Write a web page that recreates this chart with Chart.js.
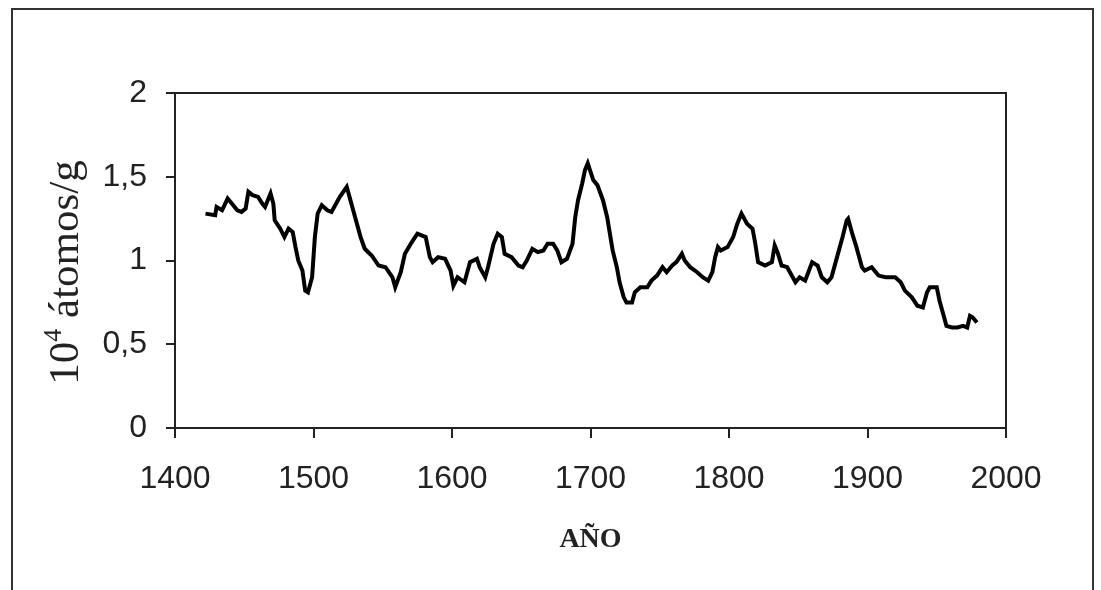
<!DOCTYPE html>
<html>
<head>
<meta charset="utf-8">
<script src="https://cdn.jsdelivr.net/npm/chart.js@4/dist/chart.umd.min.js"></script>
<style>
  html, body { margin: 0; padding: 0; background: #fff; }
  canvas { display: block; }
</style>
</head>
<body>
<canvas id="c" width="1101" height="590"></canvas>
<script>
// Años de la serie
const years = [
  1422, 1429, 1430, 1434, 1438, 1441, 1445, 1448, 1451, 1453, 1456, 1460, 1463, 1465, 1469, 1471,
  1472, 1476, 1479, 1482, 1485, 1487, 1489, 1492, 1494, 1496, 1499, 1501, 1503, 1506, 1510, 1513,
  1519, 1524, 1526, 1530, 1534, 1537, 1542, 1547, 1552, 1557, 1559, 1563, 1566, 1571, 1575, 1581,
  1584, 1586, 1590, 1595, 1599, 1601, 1604, 1609, 1613, 1618, 1620, 1624, 1626, 1630, 1633, 1636,
  1638, 1643, 1648, 1651, 1654, 1658, 1662, 1666, 1669, 1673, 1676, 1679, 1683, 1687, 1689, 1691,
  1694, 1696, 1698, 1702, 1705, 1709, 1712, 1714, 1716, 1719, 1721, 1724, 1726, 1730, 1732, 1736,
  1741, 1744, 1748, 1752, 1755, 1759, 1762, 1766, 1768, 1772, 1777, 1781, 1785, 1788, 1790, 1792,
  1794, 1799, 1803, 1806, 1809, 1813, 1817, 1819, 1821, 1826, 1831, 1833, 1835, 1838, 1842, 1846,
  1848, 1851, 1855, 1860, 1864, 1867, 1871, 1874, 1878, 1882, 1885, 1886, 1889, 1892, 1896, 1898,
  1903, 1908, 1913, 1920, 1924, 1927, 1932, 1936, 1940, 1943, 1945, 1950, 1952, 1955, 1957, 1961,
  1965, 1969, 1972, 1974, 1976, 1979
];

// Concentración (10^4 átomos/g)
const concentration = [
  1.28, 1.27, 1.32, 1.30, 1.37, 1.34, 1.30, 1.29, 1.31, 1.41, 1.39, 1.38, 1.34, 1.32, 1.40, 1.34,
  1.24, 1.19, 1.14, 1.19, 1.17, 1.08, 1.00, 0.94, 0.82, 0.81, 0.90, 1.14, 1.28, 1.33, 1.30, 1.29,
  1.38, 1.44, 1.38, 1.26, 1.14, 1.07, 1.03, 0.97, 0.96, 0.90, 0.84, 0.93, 1.04, 1.11, 1.16, 1.14,
  1.02, 0.99, 1.02, 1.01, 0.94, 0.85, 0.90, 0.87, 0.99, 1.01, 0.96, 0.90, 0.96, 1.10, 1.16, 1.14,
  1.04, 1.02, 0.97, 0.96, 1.00, 1.07, 1.05, 1.06, 1.10, 1.10, 1.06, 0.99, 1.01, 1.10, 1.26, 1.36,
  1.46, 1.54, 1.58, 1.48, 1.45, 1.36, 1.26, 1.16, 1.06, 0.96, 0.87, 0.78, 0.75, 0.75, 0.81, 0.84,
  0.84, 0.88, 0.91, 0.96, 0.93, 0.97, 0.99, 1.04, 1.00, 0.96, 0.93, 0.90, 0.88, 0.93, 1.02, 1.08,
  1.06, 1.08, 1.14, 1.22, 1.28, 1.22, 1.19, 1.10, 0.99, 0.97, 0.99, 1.09, 1.05, 0.97, 0.96, 0.90,
  0.87, 0.90, 0.88, 0.99, 0.97, 0.90, 0.87, 0.90, 1.02, 1.14, 1.24, 1.25, 1.16, 1.08, 0.96, 0.94,
  0.96, 0.91, 0.90, 0.90, 0.87, 0.82, 0.78, 0.73, 0.72, 0.81, 0.84, 0.84, 0.76, 0.67, 0.61, 0.60,
  0.60, 0.61, 0.60, 0.67, 0.66, 0.63
];

// Marcas de los ejes
const xTicks = [1400, 1500, 1600, 1700, 1800, 1900, 2000];
const yTicks = [0, 0.5, 1, 1.5, 2];
const yTickLabels = ['0', '0,5', '1', '1,5', '2'];
// Título vertical en tres partes: base, exponente y unidad
const yTitleParts = ['10', '4', ' átomos/g'];
const xTitle = 'AÑO';

const points = years.map((yr, i) => ({ x: yr, y: concentration[i] }));

// Marco exterior, recuadro del área de trazado y título vertical
const framePlugin = {
  id: 'frames',
  beforeDraw(chart) {
    const ctx = chart.ctx;
    ctx.save();
    ctx.strokeStyle = '#333';
    ctx.lineWidth = 2;
    ctx.beginPath();
    ctx.moveTo(12, 600);
    ctx.lineTo(12, 9);
    ctx.lineTo(1093, 9);
    ctx.lineTo(1093, 600);
    ctx.stroke();
    ctx.restore();
  },
  afterDatasetsDraw(chart) {
    const { ctx, chartArea: a } = chart;
    ctx.save();
    ctx.strokeStyle = '#222';
    ctx.lineWidth = 2;
    ctx.strokeRect(a.left, a.top, a.right - a.left, a.bottom - a.top);
    ctx.restore();
  },
  afterDraw(chart) {
    const ctx = chart.ctx;
    const a = chart.chartArea;
    const big = '43px "Liberation Serif", "Times New Roman", serif';
    const small = '26px "Liberation Serif", "Times New Roman", serif';
    ctx.save();
    ctx.font = big;
    const w0 = ctx.measureText(yTitleParts[0]).width;
    const w2 = ctx.measureText(yTitleParts[2]).width;
    ctx.font = small;
    const w1 = ctx.measureText(yTitleParts[1]).width;
    const total = w0 + w1 + w2;
    ctx.translate(78, (a.top + a.bottom) / 2 + 12);
    ctx.rotate(-Math.PI / 2);
    ctx.fillStyle = '#222';
    ctx.textAlign = 'left';
    ctx.textBaseline = 'alphabetic';
    let x = -total / 2;
    ctx.font = big;
    ctx.fillText(yTitleParts[0], x, 0);
    x += w0;
    ctx.font = small;
    ctx.fillText(yTitleParts[1], x, -17);
    x += w1;
    ctx.font = big;
    ctx.fillText(yTitleParts[2], x, 0);
    ctx.restore();
  }
};

new Chart(document.getElementById('c'), {
  type: 'line',
  data: {
    datasets: [{
      data: points,
      borderColor: '#000',
      borderWidth: 4,
      pointRadius: 0,
      tension: 0,
      fill: false
    }]
  },
  options: {
    responsive: false,
    animation: false,
    layout: { padding: { top: 93, right: 95, left: 0, bottom: 0 } },
    plugins: { legend: { display: false }, tooltip: { enabled: false } },
    scales: {
      x: {
        type: 'linear',
        min: 1400,
        max: 2000,
        afterBuildTicks(scale) { scale.ticks = xTicks.map(v => ({ value: v })); },
        afterFit(scale) { scale.height = 162; },
        grid: { display: true, drawOnChartArea: false, drawTicks: true, tickLength: 10, color: '#222', lineWidth: 2 },
        border: { display: true, color: '#222', width: 2 },
        ticks: {
          color: '#222',
          padding: 22,
          maxRotation: 0,
          font: { family: 'Liberation Sans, Arial, sans-serif', size: 32 },
          callback: v => String(v)
        },
        title: {
          display: true,
          text: xTitle,
          color: '#222',
          font: { family: 'Liberation Serif, Times New Roman, serif', size: 28, weight: 'bold' },
          padding: { top: 0, bottom: 33 }
        }
      },
      y: {
        min: 0,
        max: 2,
        afterBuildTicks(scale) { scale.ticks = yTicks.map(v => ({ value: v })); },
        afterFit(scale) { scale.width = 175; },
        grid: { display: true, drawOnChartArea: false, drawTicks: true, tickLength: 9, color: '#222', lineWidth: 2 },
        border: { display: true, color: '#222', width: 2 },
        ticks: {
          color: '#222',
          padding: 19,
          font: { family: 'Liberation Sans, Arial, sans-serif', size: 32 },
          callback: v => yTickLabels[yTicks.indexOf(v)]
        },
        title: { display: false }
      }
    }
  },
  plugins: [framePlugin]
});
</script>
</body>
</html>
